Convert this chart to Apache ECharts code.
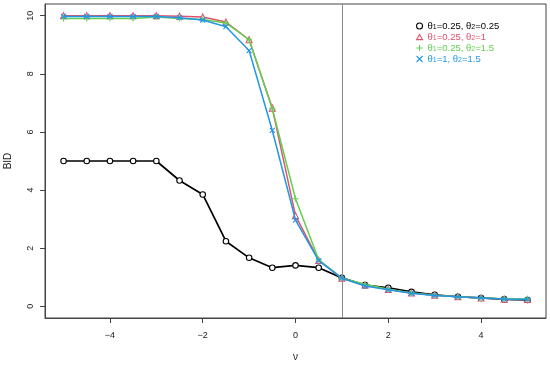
<!DOCTYPE html>
<html><head><meta charset="utf-8">
<script src="https://cdn.jsdelivr.net/npm/echarts@6/dist/echarts.min.js"></script>
<style>html,body{margin:0;padding:0;background:#fff}#c{width:550px;height:366px}</style>
</head><body><div id="c"></div>
<script>
var nu = [-5,-4.5,-4,-3.5,-3,-2.5,-2,-1.5,-1,-0.5,0,0.5,1,1.5,2,2.5,3,3.5,4,4.5,5];
var bidA = [5.0,5.0,5.0,5.0,5.0,4.33,3.85,2.24,1.67,1.33,1.41,1.33,0.98,0.73,0.64,0.50,0.40,0.33,0.29,0.24,0.22];
var bidB = [10.0,10.0,10.0,10.0,10.0,9.98,9.95,9.78,9.17,6.82,3.12,1.58,0.97,0.74,0.58,0.46,0.38,0.33,0.29,0.25,0.24];
var bidC = [9.9,9.9,9.9,9.9,9.95,9.9,9.87,9.75,9.17,6.80,3.70,1.60,0.97,0.76,0.59,0.46,0.38,0.33,0.29,0.26,0.25];
var bidD = [9.97,9.97,9.97,9.97,9.97,9.93,9.85,9.62,8.80,6.05,2.97,1.57,0.97,0.70,0.57,0.45,0.37,0.33,0.29,0.25,0.24];
var xTicks = [-4,-2,0,2,4];
var yTicks = [0,2,4,6,8,10];
var vLineX = 1;
var seriesNames = ['s1','s2','s3','s4'];
var legendParts = [['0.25','0.25'],['0.25','1'],['0.25','1.5'],['1','1.5']];
var colors = ['#000000','#DF536B','#61D04F','#2297E6'];

function pairs(ys){ return nu.map(function(x,i){return [x, ys[i]];}); }
var circlePath = 'path://M5,0A5,5 0 1,1 5,10A5,5 0 1,1 5,0Z';
var triPath = 'path://M5,0L10,8.66L0,8.66Z';
var plusPath = 'path://M0,5L10,5M5,0L5,10';
var crossPath = 'path://M0,0L10,10M0,10L10,0';
var symbols = [circlePath,triPath,plusPath,crossPath];
var sizes = [5.5,6,6,5];
var datas = [bidA,bidB,bidC,bidD];

var rich = {};
colors.forEach(function(c,i){
  rich['a'+i] = {color:c, fontSize:9.5, lineHeight:9, fontFamily:'Liberation Sans'};
  rich['s'+i] = {color:c, fontSize:7, lineHeight:9, fontFamily:'Liberation Sans', verticalAlign:'bottom'};
});

function itemStyleFor(i){
  return {color:(i < 2 ? '#fff' : 'rgba(0,0,0,0)'), borderColor:colors[i], borderWidth:1.1};
}

var series = datas.map(function(d,i){
  var s = {
    name: seriesNames[i], type:'line', data: pairs(d),
    symbol: symbols[i], symbolSize: sizes[i], showSymbol:true,
    lineStyle:{color:colors[i], width:(i===0?1.7:1.5)},
    itemStyle: itemStyleFor(i),
    emphasis:{disabled:true}, animation:false, z: 2+i
  };
  if (i===0) {
    s.markLine = {silent:true, symbol:['none','none'], label:{show:false},
      lineStyle:{color:'#8a8a8a', width:1, type:'solid'}, data:[{xAxis:vLineX}], animation:false};
  }
  return s;
});

var chart = echarts.init(document.getElementById('c'), null, {renderer:'canvas'});
chart.setOption({
  animation:false,
  backgroundColor:'#fff',
  grid:{left:45, right:4, top:4, bottom:48, containLabel:false, outerBoundsMode:'none',
    show:true, borderColor:'#444', borderWidth:1, backgroundColor:'transparent'},
  legend:{
    orient:'vertical', left:411, top:16, itemWidth:6, itemHeight:6, itemGap:1,
    data: seriesNames.map(function(n,i){return {name:n, icon:symbols[i], itemStyle:itemStyleFor(i)};}),
    formatter:function(name){
      var i = seriesNames.indexOf(name);
      var p = legendParts[i];
      return '{a'+i+'|θ}{s'+i+'|1}{a'+i+'|='+p[0]+', θ}{s'+i+'|2}{a'+i+'|='+p[1]+'}';
    },
    textStyle:{rich:rich, fontSize:9.5, lineHeight:9}, selectedMode:false
  },
  xAxis:{type:'value', min:-5.4, max:5.4, name:'ν', nameLocation:'middle', nameGap:34,
    nameTextStyle:{fontSize:10, color:'#222', fontFamily:'Liberation Sans'},
    axisLine:{show:true, onZero:false, lineStyle:{color:'#444', width:1}}, splitLine:{show:false},
    axisTick:{show:true, customValues:xTicks, length:5, inside:false, lineStyle:{color:'#444', width:1}},
    axisLabel:{customValues:xTicks, fontSize:9, color:'#222', margin:13, fontFamily:'Liberation Sans',
      formatter:function(v){return v<0? '\u2212'+Math.abs(v) : ''+v;}}
  },
  yAxis:{type:'value', min:-0.4, max:10.4, name:'BID', nameLocation:'middle', nameGap:32, nameRotate:90,
    nameTextStyle:{fontSize:10, color:'#222', fontFamily:'Liberation Sans'},
    axisLine:{show:true, onZero:false, lineStyle:{color:'#444', width:1}}, splitLine:{show:false},
    axisTick:{show:true, customValues:yTicks, length:5, lineStyle:{color:'#444', width:1}},
    axisLabel:{customValues:yTicks, fontSize:9, color:'#222', margin:10, rotate:90, fontFamily:'Liberation Sans'}
  },
  series: series
});
</script></body></html>
